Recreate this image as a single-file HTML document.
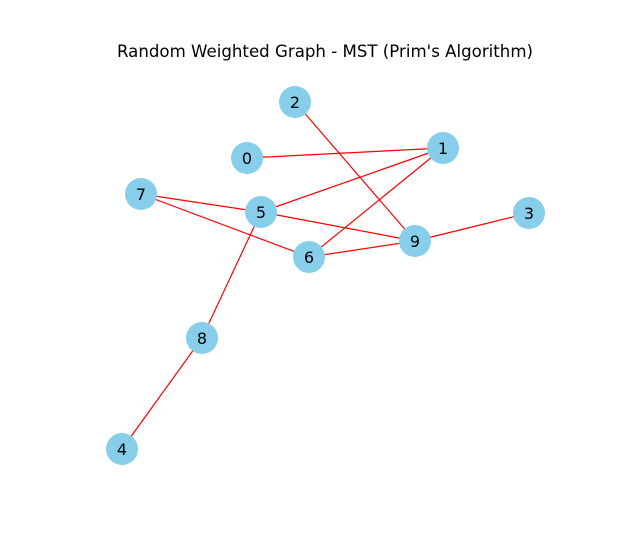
<!DOCTYPE html>
<html><head><meta charset="utf-8"><style>
html,body{margin:0;padding:0;background:#fff;}
svg{display:block;}
</style></head><body>
<svg id="chart" width="635" height="546" viewBox="0 0 635 546" xmlns="http://www.w3.org/2000/svg">
<rect width="635" height="546" fill="#fff"/>
<text x="325" y="57" text-anchor="middle" font-family="DejaVu Sans, Liberation Sans, sans-serif" font-size="16.6" textLength="416" lengthAdjust="spacingAndGlyphs" fill="#000">Random Weighted Graph - MST (Prim's Algorithm)</text>
<g id="edges"></g>
<g id="nodes"></g>
</svg>
<script>
const nodeIds = [0,1,2,3,4,5,6,7,8,9];
const nodeX = [247,443,295,529,122,261,309,141,202,415];
const nodeY = [158,148,102,213,449,212,257,194,338,241];
const edgeFrom = [0,1,1,2,7,7,5,6,9,5,8];
const edgeTo   = [1,5,6,9,5,6,9,9,3,8,4];
const NS = 'http://www.w3.org/2000/svg';
const eg = document.getElementById('edges');
const ng = document.getElementById('nodes');
function px(i){return nodeX[nodeIds.indexOf(i)];}
function py(i){return nodeY[nodeIds.indexOf(i)];}
for (let k=0;k<edgeFrom.length;k++){
  const l=document.createElementNS(NS,'line');
  l.setAttribute('x1',px(edgeFrom[k]));l.setAttribute('y1',py(edgeFrom[k]));
  l.setAttribute('x2',px(edgeTo[k]));l.setAttribute('y2',py(edgeTo[k]));
  l.setAttribute('stroke','#ff0000');l.setAttribute('stroke-width','1.2');
  
  
  eg.appendChild(l);
}
for (let k=0;k<nodeIds.length;k++){
  const c=document.createElementNS(NS,'circle');
  c.setAttribute('cx',nodeX[k]);c.setAttribute('cy',nodeY[k]);c.setAttribute('r','16');
  c.setAttribute('fill','#87ceeb');
  
  
  ng.appendChild(c);
  const t=document.createElementNS(NS,'text');
  t.setAttribute('x',nodeX[k]);t.setAttribute('y',nodeY[k]+6);
  t.setAttribute('text-anchor','middle');
  t.setAttribute('font-family','DejaVu Sans, Liberation Sans, sans-serif');
  t.setAttribute('font-size','16');
  t.textContent=String(nodeIds[k]);
  
  
  ng.appendChild(t);
}
</script>
</body></html>
